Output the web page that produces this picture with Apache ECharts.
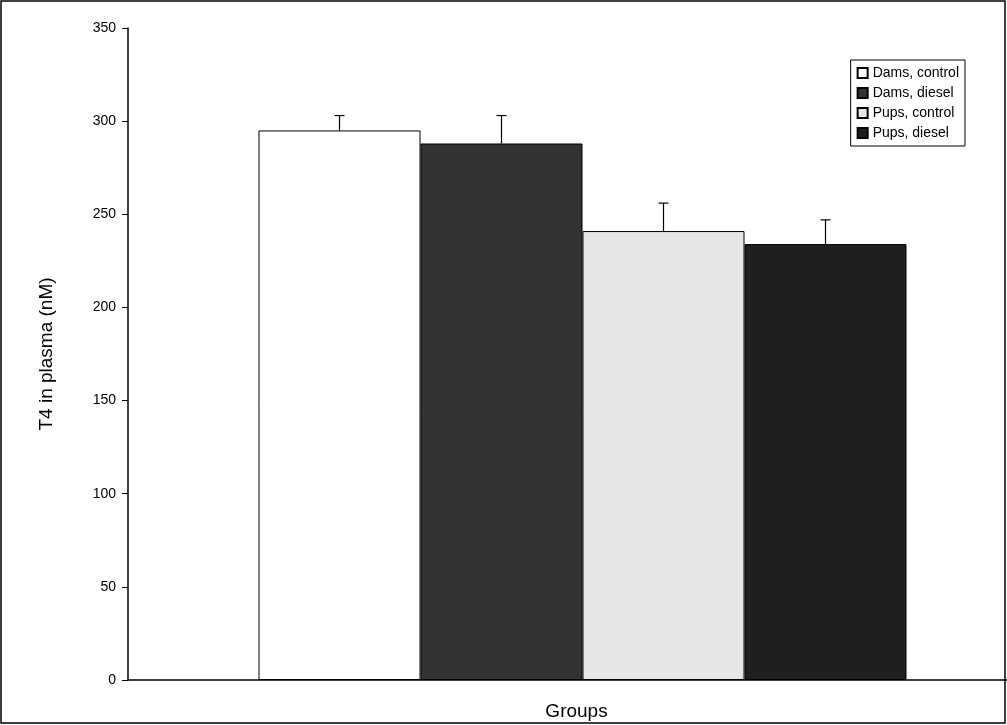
<!DOCTYPE html>
<html><head><meta charset="utf-8">
<script src="https://cdn.jsdelivr.net/npm/echarts@6/dist/echarts.min.js"></script>
<style>html,body{margin:0;padding:0;background:#fff}#c{width:1007px;height:725px}</style>
</head><body><div id="c"></div>
<script>
var seriesNames = ['Dams, control', 'Dams, diesel', 'Pups, control', 'Pups, diesel'];
var means = [295, 288, 241, 234];
var errors = [8, 15, 15, 13];
var colors = ['#ffffff', '#333333', '#e6e6e6', '#1f1f1f'];
var BAR_W = 162;

var chart = echarts.init(document.getElementById('c'));
var series = seriesNames.map(function (n, i) {
    return {
        name: n, type: 'bar', barWidth: BAR_W, barGap: '0%',
        data: [means[i]],
        itemStyle: {color: colors[i], borderColor: '#000', borderWidth: 1}
    };
});
series.push({
    type: 'custom', silent: true, z: 5,
    data: means.map(function (m, i) { return [i, m, errors[i]]; }),
    renderItem: function (params, api) {
        var i = api.value(0);
        var base = api.coord([0, api.value(1)]);
        var top = api.coord([0, api.value(1) + api.value(2)]);
        var x = base[0] + (i - 1.5) * BAR_W;
        return {type: 'group', children: [
            {type: 'line', shape: {x1: x, y1: base[1], x2: x, y2: top[1]}, style: {stroke: '#000', lineWidth: 1.2}},
            {type: 'line', shape: {x1: x - 5, y1: top[1], x2: x + 5, y2: top[1]}, style: {stroke: '#000', lineWidth: 1.2}}
        ]};
    }
});

chart.setOption({
    animation: false,
    textStyle: {fontFamily: 'Liberation Sans, Arial, sans-serif'},
    graphic: [{type: 'rect', shape: {x: 1, y: 1, width: 1004, height: 722}, style: {fill: 'none', stroke: '#000', lineWidth: 1.5}, silent: true}],
    grid: {left: 128, right: -30, top: 28, bottom: 45, outerBoundsMode: 'none'},
    legend: {
        orient: 'vertical', right: 42, top: 60, itemGap: 6,
        itemWidth: 10, itemHeight: 10, icon: 'rect',
        padding: [6, 6, 6, 6], borderColor: '#000', borderWidth: 1,
        data: seriesNames,
        textStyle: {fontSize: 14, color: '#000', padding: [0, 0, 0, 0]}
    },
    xAxis: {
        type: 'category', data: [''], name: 'Groups', nameLocation: 'middle', nameGap: 22,
        nameTextStyle: {fontSize: 19, color: '#000', padding: [0, 0, 0, -12]},
        axisLine: {lineStyle: {color: '#000', width: 1.5}},
        axisTick: {show: false}, axisLabel: {show: false}
    },
    yAxis: {
        type: 'value', min: 0, max: 350, interval: 50,
        name: 'T4 in plasma (nM)', nameLocation: 'middle', nameGap: 72,
        nameTextStyle: {fontSize: 19, color: '#000'},
        axisLine: {show: true, lineStyle: {color: '#000', width: 1.5}},
        axisTick: {show: true, length: 6, lineStyle: {color: '#000'}},
        axisLabel: {fontSize: 14, color: '#000', margin: 12},
        splitLine: {show: false}
    },
    series: series
});
</script></body></html>
